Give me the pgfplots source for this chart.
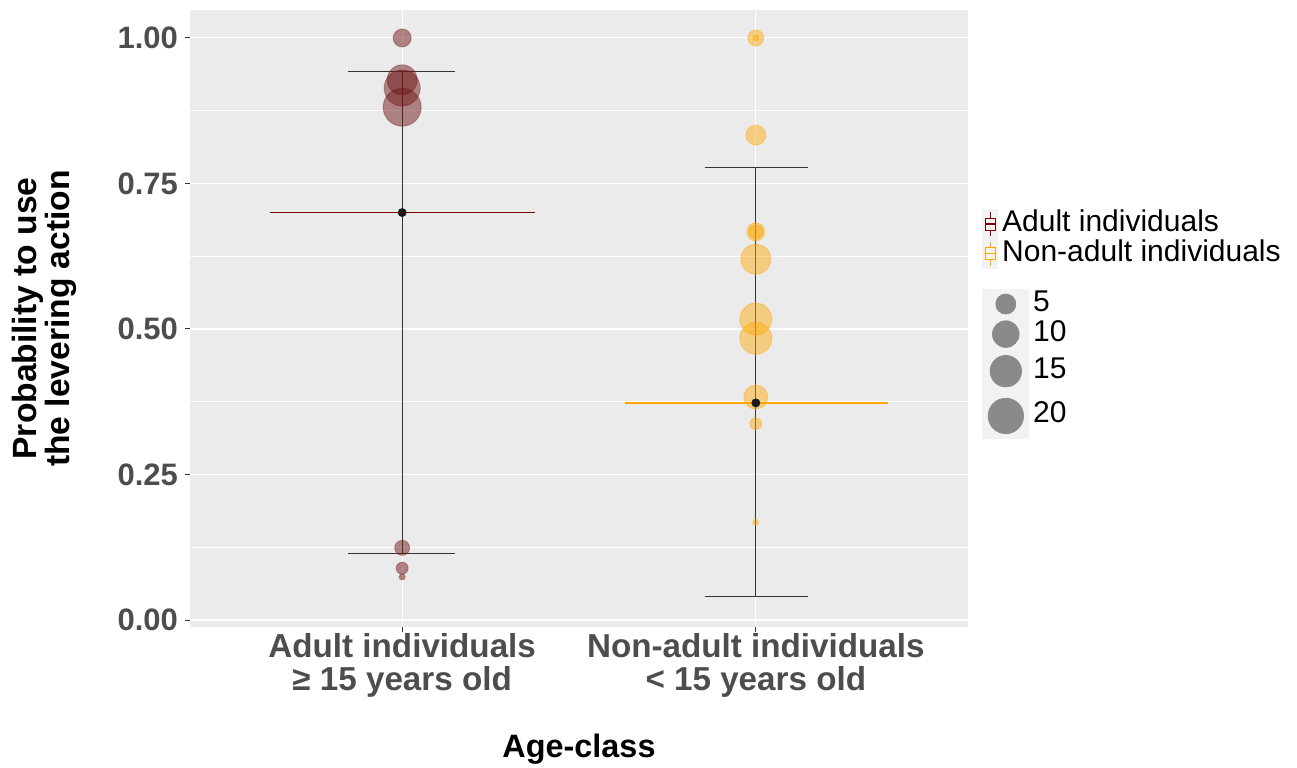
\documentclass[border=0pt]{standalone}
\usepackage{fontspec}
\setmainfont{Liberation Sans}
\usepackage{pgfplots}
\pgfplotsset{compat=1.18}
\definecolor{panelbg}{HTML}{EBEBEB}
\definecolor{adultc}{HTML}{7F0000}
\definecolor{adultb}{HTML}{701818}
\definecolor{nonadc}{HTML}{FFA500}
\definecolor{nonadb}{HTML}{FFA800}
\definecolor{tickc}{HTML}{4D4D4D}
\definecolor{legbg}{HTML}{F2F2F2}
\definecolor{sizec}{HTML}{8A8A8A}
\definecolor{barc}{HTML}{333333}

\pgfplotsset{
  adultkey/.style={legend image code/.code={
    \fill[legbg] (0pt,-7.25pt) rectangle (7.5pt,7.25pt);
    \draw[adultc, line width=0.4pt] (3.75pt,-6pt) -- (3.75pt,6pt);
    \draw[adultc, line width=0.4pt, fill=legbg] (1.25pt,-3pt) rectangle (6.25pt,3pt);
    \draw[adultc, line width=0.6pt] (1.25pt,0pt) -- (6.25pt,0pt);}},
  nonadkey/.style={legend image code/.code={
    \fill[legbg] (0pt,-7.25pt) rectangle (7.5pt,7.25pt);
    \draw[nonadc, line width=0.4pt] (3.75pt,-6pt) -- (3.75pt,6pt);
    \draw[nonadc, line width=0.4pt, fill=legbg] (1.25pt,-3pt) rectangle (6.25pt,3pt);
    \draw[nonadc, line width=0.6pt] (1.25pt,0pt) -- (6.25pt,0pt);}},
  sizekeyA/.style={legend image code/.code={
    \fill[legbg] (0pt,-7.5pt) rectangle (23pt,7.5pt);
    \fill[sizec] (11.5pt,0pt) circle (5pt);}},
  sizekeyB/.style={legend image code/.code={
    \fill[legbg] (0pt,-7.125pt) rectangle (23pt,7.125pt);
    \fill[sizec] (11.5pt,0pt) circle (6.65pt);}},
  sizekeyC/.style={legend image code/.code={
    \fill[legbg] (0pt,-11pt) rectangle (23pt,11pt);
    \fill[sizec] (11.5pt,0pt) circle (7.85pt);}},
  sizekeyD/.style={legend image code/.code={
    \fill[legbg] (0pt,-11pt) rectangle (23pt,11pt);
    \fill[sizec] (11.5pt,0pt) circle (8.85pt);}},
  ebar/.style={forget plot, barc, line width=0.5pt},
}

\pgfplotstableread{
x y r
1 1.000 4.5
1 0.928 7.5
1 0.914 9.0
1 0.881 9.5
1 0.124 3.75
1 0.089 3.0
1 0.074 1.5
}\adultdata

\pgfplotstableread{
x y r
2 1.000 4.0
2 1.000 1.5
2 0.833 5.0
2 0.667 4.5
2 0.667 3.5
2 0.620 7.5
2 0.517 8.0
2 0.484 8.0
2 0.383 6.0
2 0.337 3.0
2 0.168 1.5
}\nonadultdata

\begin{document}
\begin{tikzpicture}
\path[use as bounding box] (0,0) rectangle (648.5pt,383.5pt);
\begin{axis}[
  at={(95pt,70pt)}, anchor=south west, scale only axis,
  width=389pt, height=308.5pt,
  xmin=0.4, xmax=2.6, ymin=-0.012, ymax=1.048,
  axis background/.style={fill=panelbg},
  axis line style={draw=none},
  xtick={1,2},
  xticklabels={{Adult individuals\\≥ 15 years old},{Non-adult individuals\\< 15 years old}},
  ytick={0,0.25,0.5,0.75,1},
  yticklabels={0.00,0.25,0.50,0.75,1.00},
  minor ytick={0.125,0.375,0.625,0.875},
  grid=both,
  major grid style={white, line width=0.55pt},
  minor grid style={white, line width=0.3pt},
  xtick pos=bottom, ytick pos=left,
  tick align=outside, major tick length=2.5pt, minor tick length=0pt,
  tick style={color=barc, line width=0.5pt},
  xticklabel style={align=center, font=\fontsize{16.6}{16.8}\selectfont\bfseries, text=tickc, yshift=3pt},
  yticklabel style={font=\fontsize{15.5}{16}\selectfont\bfseries, text=tickc},
  every axis y label/.style={at={(axis description cs:-0.187,0.5)}, rotate=90, anchor=center, align=center, font=\fontsize{16.8}{16.5}\selectfont\bfseries},
  every axis x label/.style={at={(axis description cs:0.5,-0.2123)}, anchor=base, font=\fontsize{16.2}{17}\selectfont\bfseries},
  ylabel={Probability to use\\the levering action},
  xlabel={Age-class},
  legend style={at={(axis description cs:1.018,0.678)}, anchor=north west, draw=none, fill=none,
    font=\fontsize{15}{15}\selectfont, row sep=0pt, column sep=0pt, inner sep=0pt,
    nodes={inner xsep=2pt, inner ysep=0pt, text height=11pt, text depth=3.5pt}},
  legend cell align=left,
]
\addlegendimage{adultkey}
\addlegendentry{Adult individuals}
\addlegendimage{nonadkey}
\addlegendentry{Non-adult individuals}

% bubbles (size = point count)
\addplot[forget plot, only marks, mark=*, scatter,
  scatter/use mapped color={draw=adultb, fill=adultb, draw opacity=0.35, fill opacity=0.5, line width=0.5pt},
  visualization depends on={\thisrow{r} \as \rr},
  scatter/@pre marker code/.append style={/tikz/mark size=\rr}]
  table[x=x, y=y] {\adultdata};
\addplot[forget plot, only marks, mark=*, scatter,
  scatter/use mapped color={draw=nonadb, fill=nonadb, draw opacity=0.35, fill opacity=0.45, line width=0.5pt},
  visualization depends on={\thisrow{r} \as \rr},
  scatter/@pre marker code/.append style={/tikz/mark size=\rr}]
  table[x=x, y=y] {\nonadultdata};

% mean lines
\addplot[forget plot, adultc, line width=0.7pt] coordinates {(0.625,0.700) (1.376,0.700)};
\addplot[forget plot, nonadc, line width=0.7pt] coordinates {(1.630,0.373) (2.373,0.373)};

% error bars
\addplot[ebar] coordinates {(1,0.115) (1,0.943)};
\addplot[ebar] coordinates {(0.848,0.943) (1.150,0.943)};
\addplot[ebar] coordinates {(0.848,0.115) (1.150,0.115)};
\addplot[ebar] coordinates {(2,0.040) (2,0.777)};
\addplot[ebar] coordinates {(1.855,0.777) (2.147,0.777)};
\addplot[ebar] coordinates {(1.855,0.040) (2.147,0.040)};

% means
\addplot[forget plot, only marks, mark=*, mark size=2pt, color=black!90] coordinates {(1,0.700) (2,0.373)};
\end{axis}

\begin{axis}[
  at={(95pt,70pt)}, anchor=south west, scale only axis,
  width=389pt, height=308.5pt, hide axis,
  xmin=0, xmax=1, ymin=0, ymax=1,
  legend style={at={(axis description cs:1.018,0.549)}, anchor=north west, draw=none, fill=none,
    font=\fontsize{15}{15}\selectfont, row sep=0pt, column sep=0pt, inner sep=0pt,
    nodes={inner xsep=2pt, inner ysep=0pt, text height=10.5pt, text depth=3.5pt}},
  legend cell align=left,
]
\addlegendimage{sizekeyA}
\addlegendentry{5}
\addlegendimage{sizekeyB}
\addlegendentry{10}
\addlegendimage{sizekeyC}
\addlegendentry{15}
\addlegendimage{sizekeyD}
\addlegendentry{20}
\addplot[draw=none, forget plot] coordinates {(0.5,0.5)};
\end{axis}
\end{tikzpicture}
\end{document}
